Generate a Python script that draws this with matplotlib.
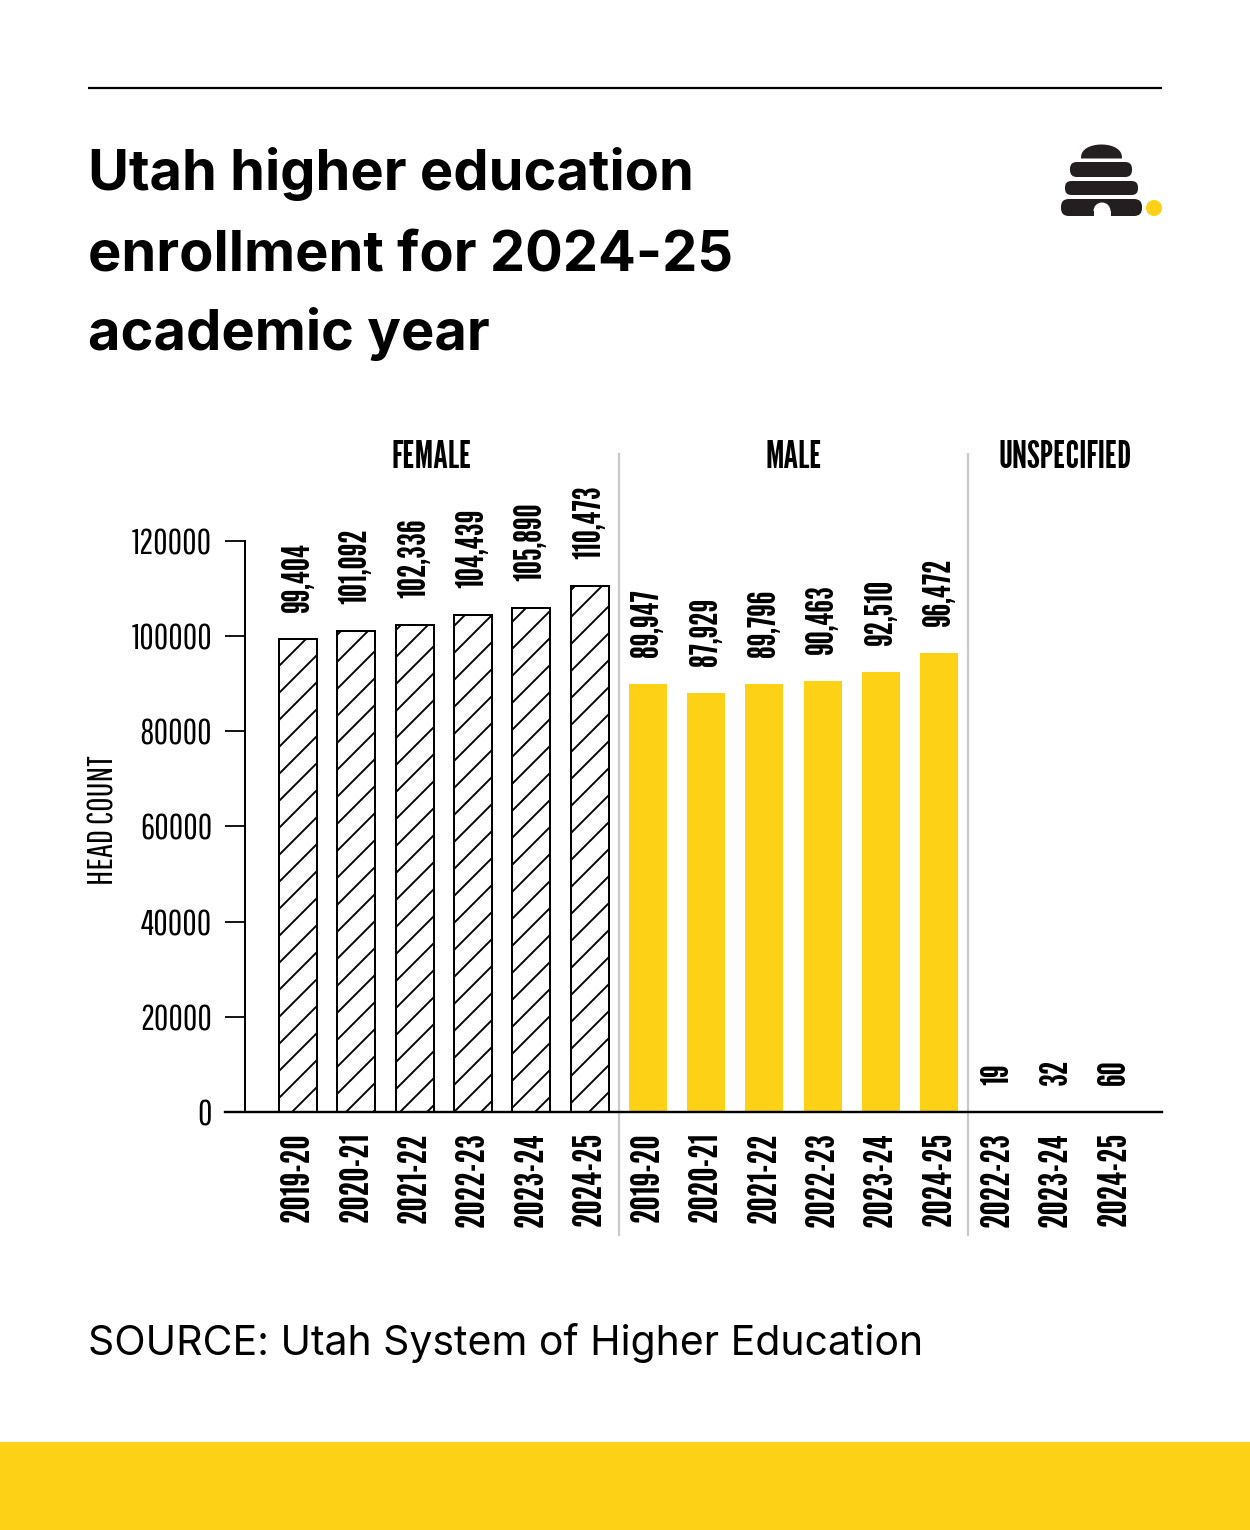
import numpy as np
import matplotlib
matplotlib.use("Agg")
import matplotlib.pyplot as plt
from matplotlib.patches import Rectangle, FancyBboxPatch, Polygon, Wedge, Circle

# data
female_years = ["2019-20", "2020-21", "2021-22", "2022-23", "2023-24", "2024-25"]
female = [99404, 101092, 102336, 104439, 105890, 110473]
male_years = ["2019-20", "2020-21", "2021-22", "2022-23", "2023-24", "2024-25"]
male = [89947, 87929, 89796, 90463, 92510, 96472]
unspec_years = ["2022-23", "2023-24", "2024-25"]
unspec = [19, 32, 60]
yticks = [0, 20000, 40000, 60000, 80000, 100000, 120000]

W, H, DPI = 1250, 1530, 162   # dpi 162 gives the wide hatch spacing of the original


def pt(px):
    # pixel size -> points at this dpi
    return px * 72 / DPI


YELLOW = "#FCD116"
GRID_GRAY = "#c8c8c8"
COND = ["Pathway Gothic One", "Roboto Condensed", "DejaVu Sans"]
COND_BOLD = ["League Gothic", "Roboto Condensed", "DejaVu Sans"]
SANS = ["Inter", "Roboto", "DejaVu Sans"]

plt.rcParams["hatch.linewidth"] = pt(1.9)

fig = plt.figure(figsize=(W / DPI, H / DPI), dpi=DPI)

# decoration layer in pixel coordinates (origin top-left)
deco = fig.add_axes([0, 0, 1, 1], zorder=0)
deco.set_xlim(0, W)
deco.set_ylim(H, 0)
deco.axis("off")

deco.plot([88, 1162], [88, 88], color="black", lw=pt(2.2), solid_capstyle="butt")
title_lines = ["Utah higher education", "enrollment for 2024-25", "academic year"]
for i, line in enumerate(title_lines):
    deco.text(88, 190 + 80 * i, line, family=SANS, weight="bold", fontsize=pt(56),
              va="baseline", ha="left")
deco.text(88, 1355, "SOURCE: Utah System of Higher Education", family=SANS,
          fontsize=pt(41), va="baseline", ha="left")
deco.add_patch(Rectangle((0, 1442), W, H - 1442, color=YELLOW, lw=0))

# beehive logo
t = np.linspace(0, np.pi, 40)
dome = np.column_stack([1101.5 + 20.5 * np.cos(t), 158.5 - 14 * np.sin(t) ** 0.8])
deco.add_patch(Polygon(dome, closed=True, color="#231f20", lw=0))
for x0, x1, y0, y1 in [(1070, 1132, 162, 177), (1065, 1138, 181, 195), (1061, 1142, 199, 216)]:
    h = y1 - y0
    deco.add_patch(FancyBboxPatch((x0, y0), x1 - x0, h, color="#231f20", lw=0,
                                  boxstyle=f"round,pad=0,rounding_size={h / 2.2}"))
deco.add_patch(Wedge((1102, 211), 8.5, 180, 360, color="white", lw=0))
deco.add_patch(Rectangle((1093.5, 210.5), 17, 6, color="white", lw=0))
deco.add_patch(Circle((1154, 208), 8, color=YELLOW, lw=0))

# chart axes: pixel box 225..1162 x 540.7..1112
ax = fig.add_axes([225 / W, 1 - 1112 / H, (1162 - 225) / W, (1112 - 540.7) / H], zorder=1)
ax.patch.set_alpha(0)

step = 58.3
xf = np.arange(len(female))
xm = np.arange(len(male)) + len(female)
xu = np.arange(len(unspec)) + len(female) + len(male)
bw = 38 / step

ax.bar(xf, female, width=bw, facecolor="white", edgecolor="black", hatch="//", lw=pt(2))
ax.bar(xm, male, width=bw, color=YELLOW, lw=0)
ax.bar(xu, unspec, width=bw, color=YELLOW, lw=0)

for xs, vals in [(xf, female), (xm, male), (xu, unspec)]:
    for x, v in zip(xs, vals):
        ax.annotate(f"{v:,}", (x, v), xytext=(0, pt(27)), textcoords="offset points",
                    rotation=90, ha="center", va="bottom", family=COND_BOLD,
                    fontsize=pt(37), annotation_clip=False)

x_left = (225 - 298) / step
x_right = (1162 - 298) / step
spine_x = (245 - 298) / step
ax.set_xlim(x_left, x_right)
ax.set_ylim(0, 120000)

ax.spines["top"].set_visible(False)
ax.spines["right"].set_visible(False)
ax.spines["left"].set_position(("data", spine_x))
ax.spines["left"].set_bounds(0, 120000)
ax.spines["left"].set_linewidth(pt(2))
ax.spines["bottom"].set_linewidth(pt(2.4))

xs_all = np.concatenate([xf, xm, xu])
ax.set_xticks(xs_all, female_years + male_years + unspec_years, rotation=90,
              family=COND_BOLD, fontsize=pt(40))
ax.tick_params(axis="x", length=0, pad=pt(20))
ax.set_yticks(yticks, [str(v) for v in yticks], family=COND, fontsize=pt(35))
ax.tick_params(axis="y", length=pt(20), width=pt(1.8), pad=pt(13))

# group separators and headers
seps = [len(female) - 0.5, len(female) + len(male) - 0.5]
for s in seps:
    ax.plot([s, s], [1.152, -0.215], color=GRID_GRAY, lw=pt(2.2),
            transform=ax.get_xaxis_transform(), clip_on=False)
bounds = [spine_x, seps[0], seps[1], x_right]
for name, a, b in zip(["FEMALE", "MALE", "UNSPECIFIED"], bounds[:-1], bounds[1:]):
    ax.text((a + b) / 2, 1.145, name, transform=ax.get_xaxis_transform(),
            ha="center", va="center", family=COND_BOLD, fontsize=pt(38))

fig.text(103 / W, 1 - 820 / H, "HEAD COUNT", rotation=90, ha="center", va="center",
         family=COND, fontsize=pt(35))

fig.savefig("out.png", dpi=DPI)
